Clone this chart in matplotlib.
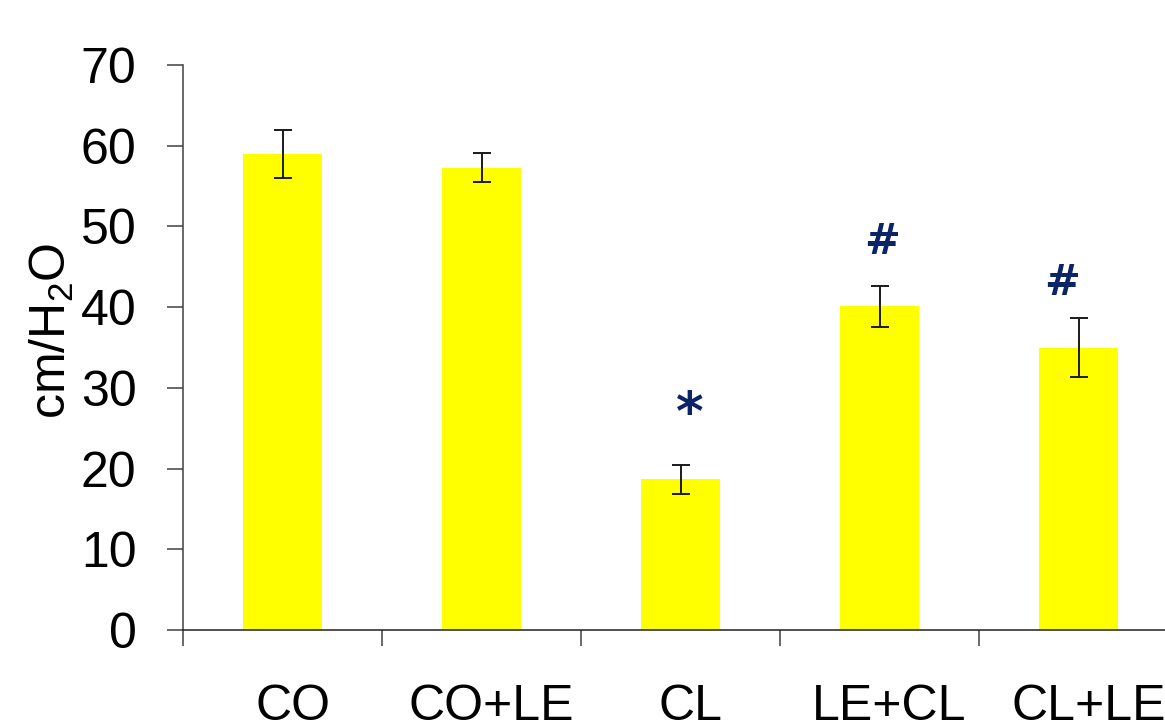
import matplotlib
matplotlib.use("Agg")
import matplotlib.pyplot as plt
import matplotlib.transforms as mtransforms
import numpy as np

categories = ["CO", "CO+LE", "CL", "LE+CL", "CL+LE"]
values = [59.0, 57.3, 18.7, 40.1, 35.0]
errors = [3.0, 1.8, 1.8, 2.5, 3.6]
marks = ["", "", "*", "#", "#"]
mark_offsets_px = [(0, 0), (0, 0), (9, 55), (3, 49), (-16, 40)]
yticks = [0, 10, 20, 30, 40, 50, 60, 70]

mark_sizes = {"*": 38, "#": 31}

plt.rcParams['font.family'] = ['Liberation Sans', 'DejaVu Sans']
plt.rcParams['mathtext.fontset'] = 'custom'
plt.rcParams['mathtext.rm'] = 'Liberation Sans'
plt.rcParams['mathtext.it'] = 'Liberation Sans'

W, H = 1165, 727
fig = plt.figure(figsize=(W / 100, H / 100), dpi=100)
left = 183 / W
bottom = 1 - 630 / H
height = (630 - 65) / H
width = 995 / W
ax = fig.add_axes([left, bottom, width, height])

x = np.arange(len(categories))
ax.bar(x, values, width=0.40, color="#FFFF00", zorder=2)
ax.errorbar(x, values, yerr=errors, fmt="none", ecolor="#1a1a1a",
            elinewidth=1.4, capsize=6.3, capthick=1.4, zorder=3)

ax.set_xlim(-0.5, len(categories) - 0.5)
ax.set_ylim(0, 70)
ax.set_yticks(yticks)
ax.set_yticklabels([str(t) for t in yticks])

ax.set_xticks(np.arange(-0.5, len(categories) + 0.5, 1.0))
ax.set_xticklabels([])
ax.set_xticks(x, minor=True)
ax.set_xticklabels(categories, minor=True)
ax.tick_params(axis='x', which='minor', length=0, pad=39, labelsize=36)
ax.tick_params(axis='x', which='major', length=11.5, width=1.1, color="#404040", direction='out')
ax.tick_params(axis='y', length=11.5, width=1.1, color="#404040", direction='out',
               pad=22, labelsize=36)

shift = mtransforms.ScaledTranslation(10 / 100, 0, fig.dpi_scale_trans)
for lbl in ax.get_xticklabels(minor=True):
    lbl.set_transform(lbl.get_transform() + shift)

for s in ['top', 'right']:
    ax.spines[s].set_visible(False)
ax.spines['left'].set_color("#404040")
ax.spines['left'].set_linewidth(1.1)
ax.spines['bottom'].set_color("#202020")
ax.spines['bottom'].set_linewidth(1.1)

ax.set_ylabel(r"cm/H$_2$O", fontsize=36)
ax.yaxis.set_label_coords(-0.108, 0.53)

for i, (m, off) in enumerate(zip(marks, mark_offsets_px)):
    if not m:
        continue
    ax.annotate(m, xy=(x[i], values[i] + errors[i]),
                xytext=(off[0] * 0.72, off[1] * 0.72), textcoords='offset points',
                ha='center', va='center_baseline', fontsize=mark_sizes[m],
                fontweight='bold', family='DejaVu Sans',
                color="#0B2468")

fig.savefig("out.png", dpi=100)
